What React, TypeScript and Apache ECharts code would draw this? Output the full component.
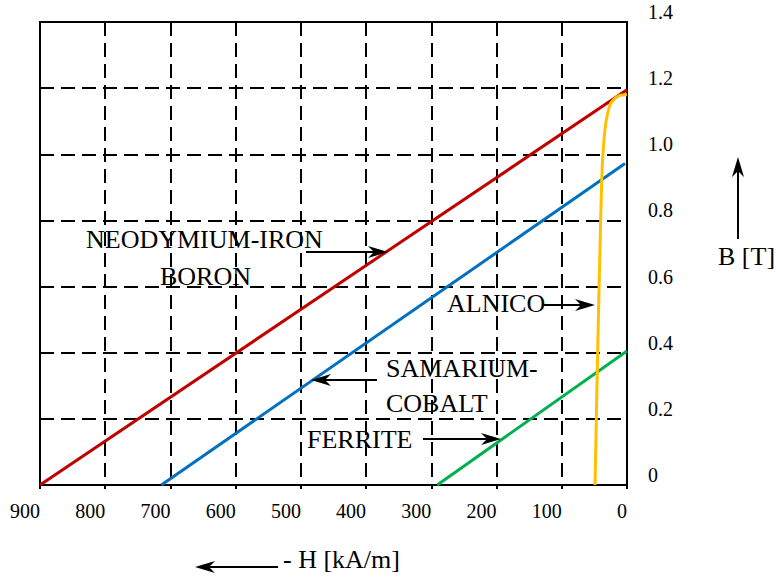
import React, { useEffect, useRef } from "react";
import * as echarts from "echarts";

// Demagnetisation curves: [ -H (kA/m), B (T) ]
const neodymium: [number, number][] = [[900, 0], [0, 1.195]];
const samarium: [number, number][] = [[714, 0], [3, 0.972]];
const ferrite: [number, number][] = [[291, 0], [0, 0.405]];
const alnico: [number, number][] = [
  [49, 0], [45, 0.4], [41, 0.75], [38, 0.96], [35, 1.05], [32, 1.1],
  [26, 1.15], [18, 1.17], [11, 1.178], [0, 1.18],
];
const xTicks = { min: 0, max: 900, step: 100 };
const yTicks = { min: 0, max: 1.4, step: 0.2 };

const FONT = "Liberation Serif";

function arrow(x1: number, y1: number, x2: number, y2: number) {
  const len = Math.hypot(x2 - x1, y2 - y1);
  const dx = (x2 - x1) / len, dy = (y2 - y1) / len;
  const nx = -dy, ny = dx;
  const L = 20, W = 6, N = 6;
  return [
    {
      type: "line",
      z: 100,
      shape: { x1, y1, x2: x2 - dx * (L - N), y2: y2 - dy * (L - N) },
      style: { stroke: "#000", lineWidth: 2 },
    },
    {
      type: "polygon",
      z: 100,
      shape: {
        points: [
          [x2, y2],
          [x2 - dx * L + nx * W, y2 - dy * L + ny * W],
          [x2 - dx * (L - N), y2 - dy * (L - N)],
          [x2 - dx * L - nx * W, y2 - dy * L - ny * W],
        ],
      },
      style: { fill: "#000" },
    },
  ];
}

function label(text: string, x: number, y: number) {
  return {
    type: "text",
    z: 100,
    x,
    y,
    style: {
      text,
      fill: "#000",
      fontFamily: FONT,
      fontSize: 26,
      align: "left",
      verticalAlign: "middle",
    },
  };
}

export default function App() {
  const ref = useRef<HTMLDivElement>(null);
  useEffect(() => {
    if (!ref.current) return;
    const chart = echarts.init(ref.current, null, { renderer: "svg" });
    const lineSeries = (data: [number, number][], color: string, smooth: number | boolean = false) => ({
      type: "line",
      data,
      showSymbol: false,
      smooth,
      lineStyle: { color, width: 3 },
      itemStyle: { color },
      z: 5,
    });
    chart.setOption({
      animation: false,
      backgroundColor: "#fff",
      textStyle: { fontFamily: FONT },
      grid: {
        left: 40,
        top: 22,
        right: 151,
        bottom: 93,
        show: true,
        borderColor: "#000",
        borderWidth: 2,
        backgroundColor: "transparent",
      },
      xAxis: {
        type: "value",
        inverse: true,
        min: xTicks.min,
        max: xTicks.max,
        interval: xTicks.step,
        axisLine: { show: true, lineStyle: { color: "#000", width: 2 } },
        axisTick: { show: true, length: 4, lineStyle: { color: "#000", width: 2 } },
        splitLine: { show: true, lineStyle: { color: "#000", width: 2, type: [14, 7] } },
        axisLabel: {
          color: "#000",
          fontFamily: FONT,
          fontSize: 20,
          align: "right",
          margin: 16,
          padding: [0, 0, 0, 0],
          formatter: (v: number) => String(v),
        },
      },
      yAxis: {
        type: "value",
        position: "right",
        min: yTicks.min,
        max: yTicks.max,
        interval: yTicks.step,
        axisLine: { show: true, lineStyle: { color: "#000", width: 2 } },
        axisTick: { show: false },
        splitLine: { show: true, lineStyle: { color: "#000", width: 2, type: [14, 7] } },
        axisLabel: {
          color: "#000",
          fontFamily: FONT,
          fontSize: 20,
          margin: 21,
          align: "left",
          verticalAlign: "bottom",
          formatter: (v: number) => (v === 0 ? "0" : v.toFixed(1)),
        },
      },
      series: [
        lineSeries(neodymium, "#C00000"),
        lineSeries(samarium, "#0070C0"),
        lineSeries(ferrite, "#00B050"),
        lineSeries(alnico, "#FFC000", 0.3),
      ],
      graphic: [
        label("NEODYMIUM-IRON", 86, 239),
        label("BORON", 160, 276),
        label("ALNICO", 447, 303),
        label("SAMARIUM-", 386, 368),
        label("COBALT", 386, 403),
        label("FERRITE", 307, 439),
        label("B [T]", 718, 256),
        label("- H [kA/m]", 283, 559),
        ...arrow(306, 252, 388, 252),
        ...arrow(543, 305, 595, 305),
        ...arrow(377, 380, 311, 380),
        ...arrow(423, 439, 501, 439),
        ...arrow(738, 239, 738, 157),
        ...arrow(278, 567, 195, 567),
      ],
    });
    return () => chart.dispose();
  }, []);
  return (
    <div
      ref={ref}
      style={{ position: "fixed", left: 0, top: 0, width: 778, height: 578 }}
    />
  );
}
